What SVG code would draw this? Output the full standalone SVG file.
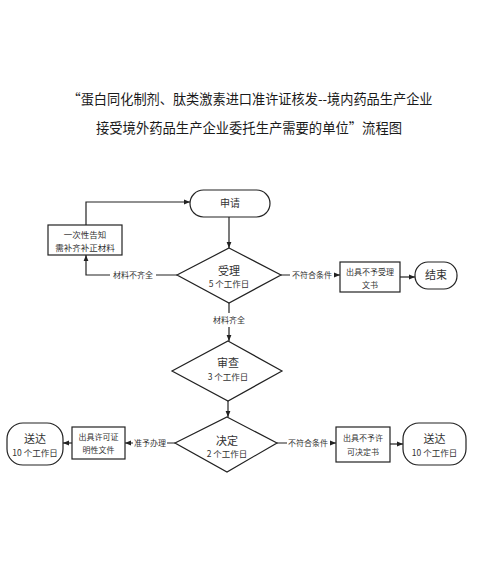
<svg xmlns="http://www.w3.org/2000/svg" width="500" height="565" viewBox="0 0 500 565">
<style>
.t{font-family:"Noto Sans CJK SC","Liberation Sans",sans-serif;fill:#222;text-anchor:middle}
.title{font-size:13.5px;fill:#1a1a1a}
.n{font-size:8.5px;fill:#333}
.big{font-size:11px;fill:#333}
.lbl{font-size:8px;fill:#333}
.s{fill:#fff;stroke:#222;stroke-width:1.2}
.c{fill:none;stroke:#222;stroke-width:1.2}
</style>
<defs>
<marker id="a" viewBox="0 0 10 10" refX="10" refY="5" markerWidth="6" markerHeight="6" orient="auto-start-reverse" markerUnits="userSpaceOnUse">
<path d="M0,1 L10,5 L0,9 z" fill="#222"/>
</marker>
</defs>
<rect width="500" height="565" fill="#fff"/>
<text class="t title" x="250" y="104" textLength="365" lengthAdjust="spacingAndGlyphs">“蛋白同化制剂、肽类激素进口准许证核发--境内药品生产企业</text>
<text class="t title" x="249" y="133" textLength="306" lengthAdjust="spacingAndGlyphs">接受境外药品生产企业委托生产需要的单位”流程图</text>

<g id="connectors">
<path class="c" d="M229,217 V248" marker-end="url(#a)"/>
<path class="c" d="M86,225 V202 H190" marker-end="url(#a)"/>
<path class="c" d="M177,275 H156 M110,275 H86 V255" marker-end="url(#a)"/>
<path class="c" d="M281,275 H290 M335,275 H340" marker-end="url(#a)"/>
<path class="c" d="M400,277 H415" marker-end="url(#a)"/>
<path class="c" d="M229,303 V313 M229,327 V341" marker-end="url(#a)"/>
<path class="c" d="M228,401 V417" marker-end="url(#a)"/>
<path class="c" d="M175,443 H167 M133,443 H125" marker-end="url(#a)"/>
<path class="c" d="M72,443 H63" marker-end="url(#a)"/>
<path class="c" d="M277,443 H287 M330,443 H336" marker-end="url(#a)"/>
<path class="c" d="M390,444 H403" marker-end="url(#a)"/>
<text class="t lbl" x="133" y="278">材料不齐全</text>
<text class="t lbl" x="312" y="278">不符合条件</text>
<text class="t lbl" x="229" y="323">材料齐全</text>
<text class="t lbl" x="150" y="446">准予办理</text>
<text class="t lbl" x="308" y="446">不符合条件</text>
</g>

<g id="apply">
<rect class="s" x="190" y="190" width="80" height="27" rx="13.5"/>
<text class="t n" x="230" y="207" style="font-size:10px">申请</text>
</g>
<g id="notify">
<rect class="s" x="48" y="225" width="74" height="30"/>
<text class="t n" x="85" y="238">一次性告知</text>
<text class="t n" x="85" y="250.5">需补齐补正材料</text>
</g>
<g id="accept">
<polygon class="s" points="229,248 281,275 229,303 177,275"/>
<text class="t big" x="229" y="275">受理</text>
<text class="t n" x="229" y="287">5 个工作日</text>
</g>
<g id="reject1">
<rect class="s" x="340" y="262" width="60" height="30"/>
<text class="t lbl" x="370" y="275">出具不予受理</text>
<text class="t lbl" x="370" y="288">文书</text>
</g>
<g id="end">
<rect class="s" x="415" y="262" width="42" height="27" rx="13"/>
<text class="t big" x="436" y="279">结束</text>
</g>
<g id="review">
<polygon class="s" points="228,341 282,371 228,401 172,371"/>
<text class="t big" x="228" y="367">审查</text>
<text class="t n" x="228" y="380">3 个工作日</text>
</g>
<g id="decide">
<polygon class="s" points="227,417 277,443 227,472 175,443"/>
<text class="t big" x="227" y="445">决定</text>
<text class="t n" x="227" y="457">2 个工作日</text>
</g>
<g id="permit">
<rect class="s" x="72" y="427" width="53" height="32"/>
<text class="t lbl" x="98.5" y="440">出具许可证</text>
<text class="t lbl" x="98.5" y="453">明性文件</text>
</g>
<g id="deliver1">
<rect class="s" x="7" y="423" width="56" height="42" rx="16"/>
<text class="t big" x="35" y="443">送达</text>
<text class="t n" x="35" y="456">10 个工作日</text>
</g>
<g id="reject2">
<rect class="s" x="336" y="427" width="54" height="35"/>
<text class="t lbl" x="363" y="441">出具不予许</text>
<text class="t lbl" x="363" y="455">可决定书</text>
</g>
<g id="deliver2">
<rect class="s" x="403" y="423" width="63" height="42" rx="16"/>
<text class="t big" x="434.5" y="443">送达</text>
<text class="t n" x="434.5" y="456">10 个工作日</text>
</g>
</svg>
